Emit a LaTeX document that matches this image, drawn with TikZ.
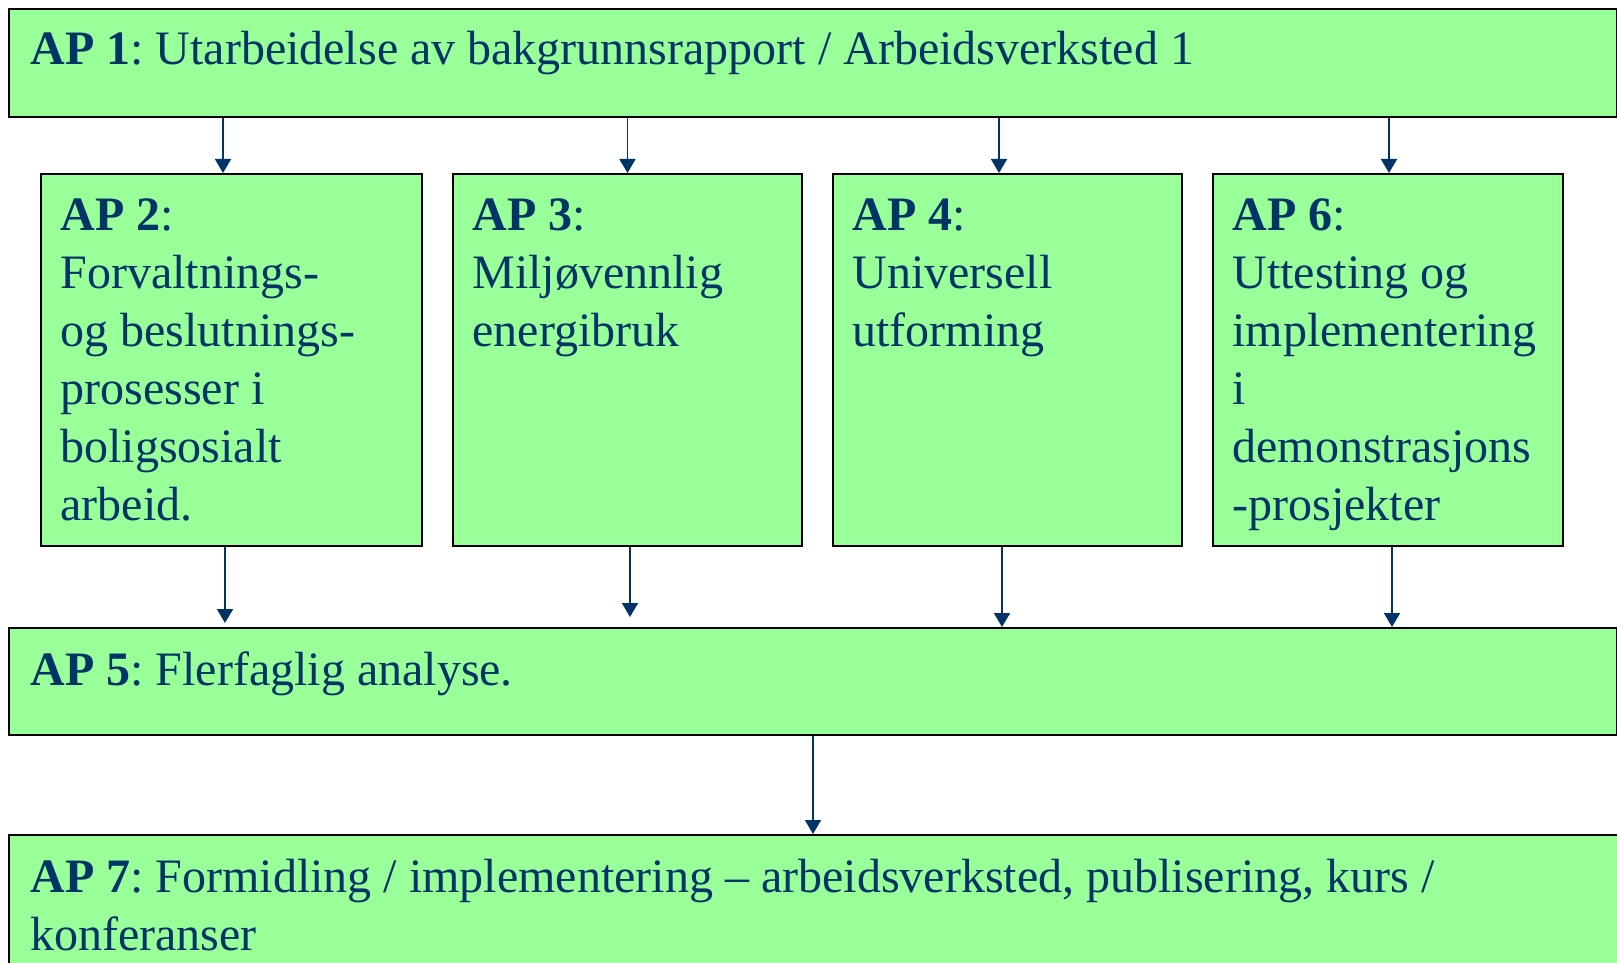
\documentclass[tikz,border=0pt]{standalone}
\usepackage{fontspec}
\setmainfont{Liberation Serif}
\usepackage{xcolor}
\usetikzlibrary{arrows.meta, positioning}

\definecolor{apgreen}{HTML}{99FF99}
\definecolor{apblue}{HTML}{003366}
\frenchspacing

\begin{document}
\begin{tikzpicture}[x=0.5pt, y=-0.5pt]
            \useasboundingbox (0,0) rectangle (1617,963);
            \clip (0,0) rectangle (1617,963);

            \begin{scope}[every node/.style={rectangle, draw=black, line width=1pt, fill=apgreen, anchor=north west, inner sep=0pt}]
                \node[minimum width=804pt, minimum height=54pt] (AP1) at (8,8) {};
                \node[minimum width=190.5pt, minimum height=186pt] (AP2) at (40,173) {};
                \node[minimum width=174.5pt, minimum height=186pt] (AP3) at (452,173) {};
                \node[minimum width=174.5pt, minimum height=186pt] (AP4) at (832,173) {};
                \node[minimum width=175pt, minimum height=186pt] (AP6) at (1212,173) {};
                \node[minimum width=804pt, minimum height=53.5pt] (AP5) at (8,627) {};
                \node[minimum width=820pt, minimum height=90pt] (AP7) at (8,834) {};
            \end{scope}

            % base anchor sits on the last line, so shift down by the number of lines
            \begin{scope}[every node/.style={anchor=base west, align=left, inner sep=0pt, text=apblue, font=\fontsize{24}{29}\selectfont}]
                \node (AP1txt) at ([shift={(22,57)}]AP1.north west) {\textbf{AP 1}: Utarbeidelse av bakgrunnsrapport / Arbeidsverksted 1};
                \node (AP2txt) at ([shift={(20,347)}]AP2.north west) {\textbf{AP 2}:\\Forvaltnings-\\og beslutnings-\\prosesser i\\boligsosialt\\arbeid.};
                \node (AP3txt) at ([shift={(20,173)}]AP3.north west) {\textbf{AP 3}:\\Miljøvennlig\\energibruk};
                \node (AP4txt) at ([shift={(20,173)}]AP4.north west) {\textbf{AP 4}:\\Universell\\utforming};
                \node (AP6txt) at ([shift={(20,347)}]AP6.north west) {\textbf{AP 6}:\\Uttesting og\\implementering\\i\\demonstrasjons\\-prosjekter};
                \node (AP5txt) at ([shift={(22,58)}]AP5.north west) {\textbf{AP 5}: Flerfaglig analyse.};
                \node (AP7txt) at ([shift={(22,116)}]AP7.north west) {\textbf{AP 7}: Formidling / implementering -- arbeidsverksted, publisering, kurs /\\konferanser};
            \end{scope}

            \begin{scope}[>={Triangle[width=8pt, length=7pt]},
                          every edge/.style={draw=apblue, line width=0.9pt}]
                 \path[->] ([xshift=-4.25pt]AP2.north |- AP1.south) edge ([xshift=-4.25pt]AP2.north);
                 \path[->] (AP3.north |- AP1.south) edge (AP3.north);
                 \path[->] ([xshift=-4.25pt]AP4.north |- AP1.south) edge ([xshift=-4.25pt]AP4.north);
                 \path[->] ([xshift=0.5pt]AP6.north |- AP1.south) edge ([xshift=0.5pt]AP6.north);
                 \path[->, shorten >=2pt] ([xshift=-3.25pt]AP2.south) edge ([xshift=-3.25pt]AP2.south |- AP5.north);
                 \path[->, shorten >=5pt] ([xshift=1.25pt]AP3.south) edge ([xshift=1.25pt]AP3.south |- AP5.north);
                 \path[->] ([xshift=-2.75pt]AP4.south) edge ([xshift=-2.75pt]AP4.south |- AP5.north);
                 \path[->] ([xshift=2pt]AP6.south) edge ([xshift=2pt]AP6.south |- AP5.north);
                 \path[->] (AP5.south) edge (AP5.south |- AP7.north);
            \end{scope}
\end{tikzpicture}
\end{document}
